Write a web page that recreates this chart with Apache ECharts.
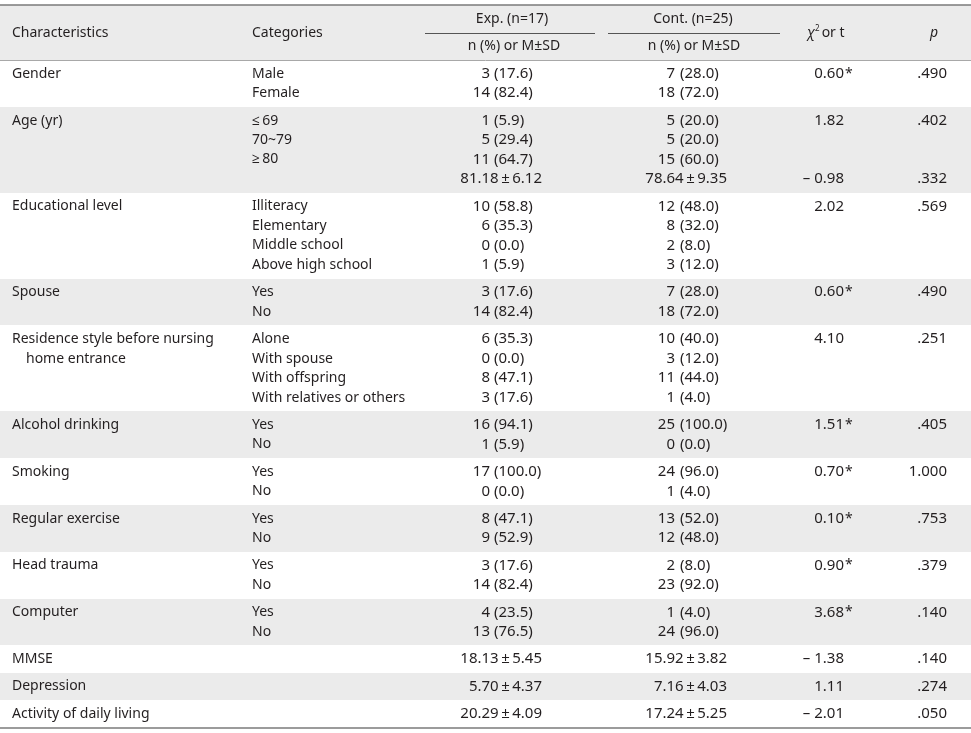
<!DOCTYPE html>
<html>
<head>
<meta charset="utf-8">
<script src="https://cdn.jsdelivr.net/npm/echarts@6/dist/echarts.min.js"></script>
<style>
html,body{margin:0;padding:0;background:#ffffff;}
#chart{width:971px;height:733px;}
</style>
</head>
<body>
<div id="chart"></div>
<script>
// ---------------- DATA ----------------
const characteristics = [
  "Gender", "Age (yr)", "Educational level", "Spouse",
  "Residence style before nursing\nhome entrance",
  "Alcohol drinking", "Smoking", "Regular exercise", "Head trauma",
  "Computer", "MMSE", "Depression", "Activity of daily living"
];
const categories = [
  ["Male", "Female"],
  ["\u2264\u200969", "70~79", "\u2265\u200980", ""],
  ["Illiteracy", "Elementary", "Middle school", "Above high school"],
  ["Yes", "No"],
  ["Alone", "With spouse", "With offspring", "With relatives or others"],
  ["Yes", "No"], ["Yes", "No"], ["Yes", "No"], ["Yes", "No"], ["Yes", "No"],
  [""], [""], [""]
];
const expValues = [
  ["3 (17.6)", "14 (82.4)"],
  ["1 (5.9)", "5 (29.4)", "11 (64.7)", "81.18\u00b16.12"],
  ["10 (58.8)", "6 (35.3)", "0 (0.0)", "1 (5.9)"],
  ["3 (17.6)", "14 (82.4)"],
  ["6 (35.3)", "0 (0.0)", "8 (47.1)", "3 (17.6)"],
  ["16 (94.1)", "1 (5.9)"],
  ["17 (100.0)", "0 (0.0)"],
  ["8 (47.1)", "9 (52.9)"],
  ["3 (17.6)", "14 (82.4)"],
  ["4 (23.5)", "13 (76.5)"],
  ["18.13\u00b15.45"], ["5.70\u00b14.37"], ["20.29\u00b14.09"]
];
const contValues = [
  ["7 (28.0)", "18 (72.0)"],
  ["5 (20.0)", "5 (20.0)", "15 (60.0)", "78.64\u00b19.35"],
  ["12 (48.0)", "8 (32.0)", "2 (8.0)", "3 (12.0)"],
  ["7 (28.0)", "18 (72.0)"],
  ["10 (40.0)", "3 (12.0)", "11 (44.0)", "1 (4.0)"],
  ["25 (100.0)", "0 (0.0)"],
  ["24 (96.0)", "1 (4.0)"],
  ["13 (52.0)", "12 (48.0)"],
  ["2 (8.0)", "23 (92.0)"],
  ["1 (4.0)", "24 (96.0)"],
  ["15.92\u00b13.82"], ["7.16\u00b14.03"], ["17.24\u00b15.25"]
];
const statValues = [
  ["0.60*"], ["1.82", "", "", "-0.98"], ["2.02"], ["0.60*"], ["4.10"],
  ["1.51*"], ["0.70*"], ["0.10*"], ["0.90*"], ["3.68*"],
  ["-1.38"], ["1.11"], ["-2.01"]
];
const pValues = [
  [".490"], [".402", "", "", ".332"], [".569"], [".490"], [".251"],
  [".405"], ["1.000"], [".753"], [".379"], [".140"],
  [".140"], [".274"], [".050"]
];
const headerLabels = {
  characteristics: "Characteristics",
  categories: "Categories",
  exp: "Exp. (n=17)",
  cont: "Cont. (n=25)",
  sub: "n (%) or M\u00b1SD",
  stat: ["\u03c7", "2", " or t"],
  p: "p"
};

// ---------------- LAYOUT ----------------
const W = 971;
const FONT = '"Noto Sans", "Open Sans", sans-serif';
const F14 = '14px ' + FONT;
const FNUM = '15px ' + FONT;
const TXT = '#231f20';
const PAD = 0.4026;        // band padding (line units)
const HEADER_H = 2.8205;   // header height (line units)
const X = {
  ch: 12, cat: 252,
  expCnt: 490, expPar: 494, expMsd: 542,
  contCnt: 675, contPar: 680, contMsd: 727,
  stat: 844, p: 947,
  expMid: 512, contMid: 693, pMid: 934
};

const bands = [[0, HEADER_H, 1]];
const texts = [];
const rules = [];
function addText(x, y, text, align, font) {
  texts.push({ x: x, y: y, text: text, align: align, font: font || F14 });
}
function addValue(str, y, cntX, parX, msdX) {
  if (!str) return;
  const m = str.match(/^(\d+) (\(.*\))$/);
  if (m) { addText(cntX, y, m[1], 'right', FNUM); addText(parX, y, m[2], 'left', FNUM); }
  else addText(msdX, y, str.replace('\u00b1', '\u2009\u00b1\u2009'), 'right', FNUM);
}
function addStat(str, y) {
  if (!str) return;
  const star = str.endsWith('*');
  let v = star ? str.slice(0, -1) : str;
  if (v.startsWith('-')) v = '\u2013 ' + v.slice(1);
  addText(X.stat, y, v, 'right', FNUM);
  if (star) addText(X.stat + 1, y, '*', 'left', F14);
}

// header
addText(X.ch, 1.436, headerLabels.characteristics, 'left');
addText(X.cat, 1.436, headerLabels.categories, 'left');
addText(X.expMid, 0.718, headerLabels.exp, 'center');
addText(X.contMid, 0.718, headerLabels.cont, 'center');
addText(X.expMid + 2, 2.103, headerLabels.sub, 'center');
addText(X.contMid + 1, 2.103, headerLabels.sub, 'center');
addText(807, 1.436, headerLabels.stat[0], 'left', 'italic 14px ' + FONT);
addText(815, 1.23, headerLabels.stat[1], 'left', '8px ' + FONT);
addText(818, 1.436, headerLabels.stat[2], 'left');
addText(X.pMid, 1.436, headerLabels.p, 'center', 'italic 14px ' + FONT);

rules.push({ x1: 0, x2: W, y: 0, color: '#7a7a7a', w: 1.5 });
rules.push({ x1: 425, x2: 595, y: 1.436, color: '#555555', w: 1 });
rules.push({ x1: 608, x2: 780, y: 1.436, color: '#555555', w: 1 });
rules.push({ x1: 0, x2: W, y: HEADER_H, color: '#a8a8a8', w: 1 });

let yCur = HEADER_H;
characteristics.forEach(function (c, g) {
  const n = categories[g].length;
  const y0 = yCur, y1 = yCur + n + PAD;
  bands.push([y0, y1, g % 2]);
  const lineY = function (j) { return y0 + PAD / 2 + j + 0.5; };
  c.split('\n').forEach(function (s, j) { addText(X.ch + (j > 0 ? 14 : 0), lineY(j), s, 'left'); });
  categories[g].forEach(function (s, j) { if (s) addText(X.cat, lineY(j), s, 'left'); });
  expValues[g].forEach(function (s, j) { addValue(s, lineY(j), X.expCnt, X.expPar, X.expMsd); });
  contValues[g].forEach(function (s, j) { addValue(s, lineY(j), X.contCnt, X.contPar, X.contMsd); });
  statValues[g].forEach(function (s, j) { addStat(s, lineY(j)); });
  pValues[g].forEach(function (s, j) { if (s) addText(X.p, lineY(j), s, 'right', FNUM); });
  yCur = y1;
});
const TOTAL = yCur;
rules.push({ x1: 0, x2: W, y: TOTAL, color: '#7a7a7a', w: 1.5 });

// ---------------- CHART ----------------
const chart = echarts.init(document.getElementById('chart'), null, { renderer: 'canvas' });
chart.setOption({
  animation: false,
  backgroundColor: '#ffffff',
  grid: { left: 0, right: 0, top: 5, bottom: 5.5 },
  xAxis: { type: 'value', min: 0, max: W, show: false },
  yAxis: { type: 'value', min: 0, max: TOTAL, inverse: true, show: false },
  series: [
    {
      type: 'custom', clip: false, silent: true, z: 1,
      data: bands.map(function (b) { return [b[0], b[1], b[2]]; }),
      renderItem: function (params, api) {
        const p0 = api.coord([0, api.value(0)]);
        const p1 = api.coord([W, api.value(1)]);
        return {
          type: 'rect',
          shape: { x: p0[0], y: Math.round(p0[1]), width: p1[0] - p0[0], height: Math.round(p1[1]) - Math.round(p0[1]) },
          style: { fill: api.value(2) ? '#ebebeb' : '#ffffff' }
        };
      }
    },
    {
      type: 'custom', clip: false, silent: true, z: 3,
      data: rules.map(function (r) { return [r.x1, r.x2, r.y]; }),
      renderItem: function (params, api) {
        const r = rules[params.dataIndex];
        const a = api.coord([api.value(0), api.value(2)]);
        const b = api.coord([api.value(1), api.value(2)]);
        const yy = Math.round(a[1]) + (r.w === 1 ? 0.5 : 0);
        return {
          type: 'line',
          shape: { x1: a[0], y1: yy, x2: b[0], y2: yy },
          style: { stroke: r.color, lineWidth: r.w }
        };
      }
    },
    {
      type: 'custom', clip: false, silent: true, z: 4,
      data: texts.map(function (t) { return [t.x, t.y]; }),
      renderItem: function (params, api) {
        const t = texts[params.dataIndex];
        const p = api.coord([api.value(0), api.value(1)]);
        return {
          type: 'text',
          x: p[0], y: p[1],
          style: { text: t.text, fill: TXT, font: t.font, align: t.align, verticalAlign: 'middle' }
        };
      }
    }
  ]
});
</script>
</body>
</html>
